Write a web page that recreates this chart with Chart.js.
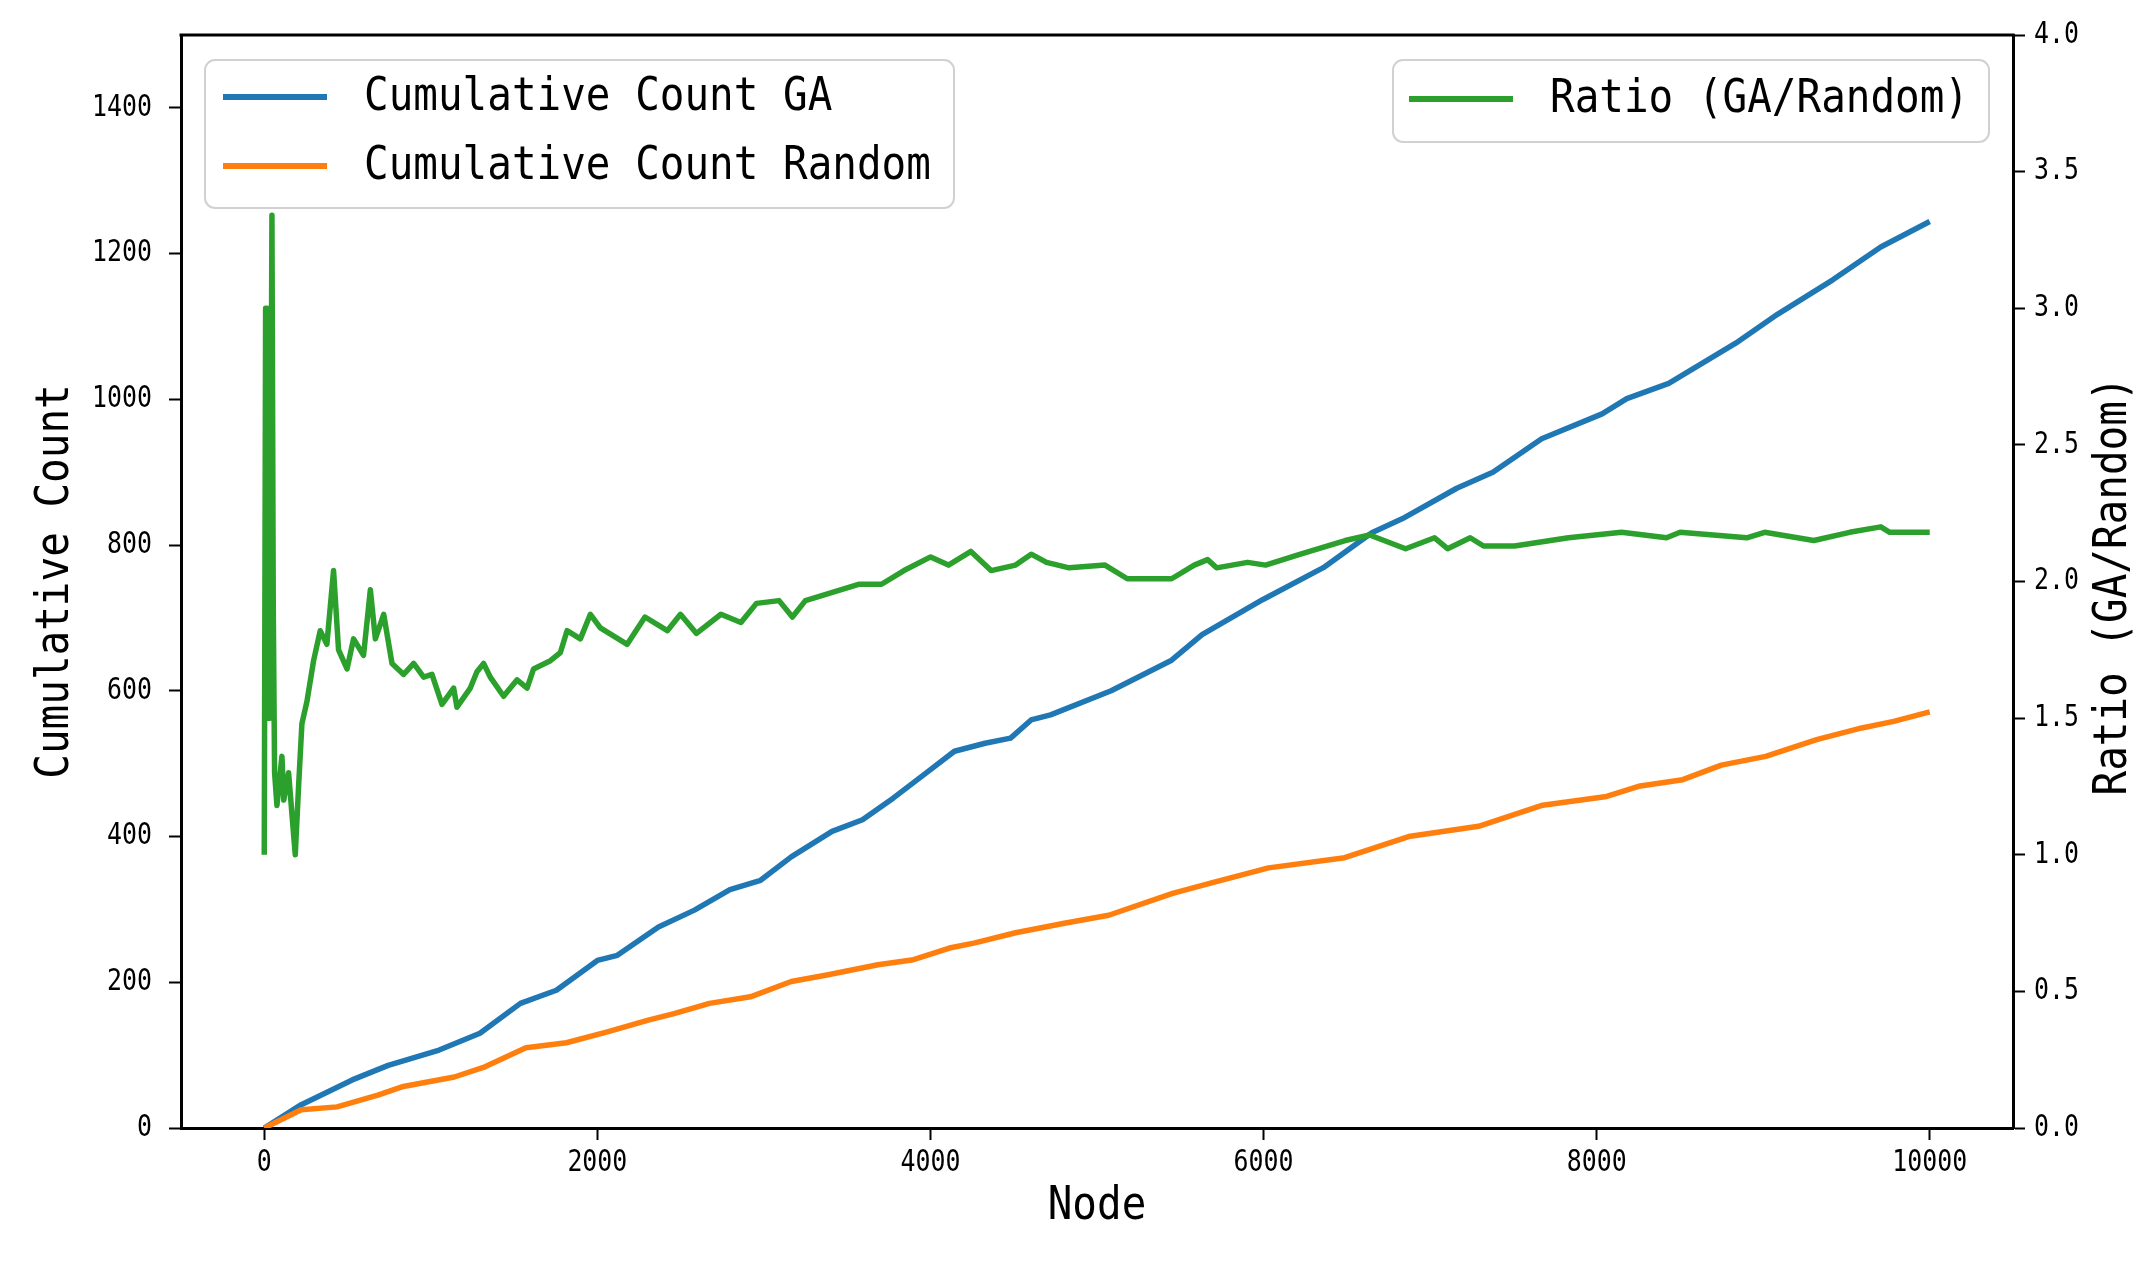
<!DOCTYPE html>
<html>
<head>
<meta charset="utf-8">
<script src="https://cdn.jsdelivr.net/npm/chart.js@4.4.1/dist/chart.umd.min.js"></script>
<style>
  html, body { margin: 0; padding: 0; background: #fff; }
  #wrap { width: 2156px; height: 1262px; position: relative; }
</style>
</head>
<body>
<div id="wrap"><canvas id="c"></canvas></div>
<script>
// ---- data ----
const gaNodes = [0, 222, 528, 744, 1050, 1295, 1538, 1754, 2000, 2120, 2367, 2583, 2796, 2980, 3164, 3409, 3592, 3778, 3961, 4144, 4328, 4481, 4604, 4721, 5085, 5448, 5631, 5994, 6359, 6650, 6832, 7160, 7377, 7670, 8033, 8181, 8433, 8835, 9088, 9418, 9706, 10000];
const gaCounts = [0, 32, 66, 86, 107, 130, 171, 189, 230, 237, 276, 299, 327, 340, 372, 407, 423, 453, 485, 517, 528, 535, 560, 567, 600, 642, 677, 725, 769, 817, 836, 878, 900, 946, 980, 1001, 1022, 1077, 1117, 1164, 1209, 1244];

const rndNodes = [0, 222, 437, 682, 835, 1141, 1325, 1571, 1814, 2060, 2306, 2460, 2673, 2919, 3164, 3378, 3685, 3898, 4114, 4267, 4511, 4804, 5070, 5454, 5682, 6030, 6487, 6871, 7291, 7676, 8060, 8252, 8517, 8749, 9015, 9321, 9592, 9784, 10000];
const rndCounts = [0, 25, 29, 45, 57, 70, 84, 110, 117, 132, 148, 157, 171, 180, 201, 210, 224, 231, 247, 254, 268, 281, 292, 322, 336, 357, 371, 400, 414, 443, 455, 469, 478, 498, 510, 533, 549, 558, 571];

const ratioNodes = [0, 8, 16, 22, 28, 34, 46, 54, 62, 76, 106, 117, 146, 166, 186, 206, 226, 256, 296, 336, 376, 416, 446, 497, 536, 596, 637, 667, 717, 767, 837, 897, 957, 1007, 1067, 1137, 1157, 1237, 1277, 1317, 1357, 1437, 1518, 1578, 1617, 1718, 1778, 1818, 1898, 1958, 2018, 2179, 2286, 2420, 2499, 2595, 2742, 2862, 2955, 3091, 3171, 3249, 3411, 3573, 3706, 3841, 4001, 4108, 4243, 4364, 4511, 4605, 4697, 4833, 5048, 5182, 5448, 5584, 5664, 5718, 5904, 6012, 6222, 6490, 6637, 6853, 7027, 7105, 7241, 7321, 7507, 7831, 8150, 8420, 8501, 8901, 9009, 9304, 9519, 9706, 9760, 10000];
const ratioValues = [1.0, 3.0, 3.0, 1.5, 3.0, 1.5, 3.34, 1.9, 1.3, 1.18, 1.36, 1.2, 1.30, 1.15, 1.0, 1.25, 1.48, 1.56, 1.71, 1.82, 1.77, 2.04, 1.75, 1.68, 1.79, 1.73, 1.97, 1.79, 1.88, 1.70, 1.66, 1.70, 1.65, 1.66, 1.55, 1.61, 1.54, 1.61, 1.67, 1.70, 1.65, 1.58, 1.64, 1.61, 1.68, 1.71, 1.74, 1.82, 1.79, 1.88, 1.83, 1.77, 1.87, 1.82, 1.88, 1.81, 1.88, 1.85, 1.92, 1.93, 1.87, 1.93, 1.96, 1.99, 1.99, 2.04, 2.09, 2.06, 2.11, 2.04, 2.06, 2.10, 2.07, 2.05, 2.06, 2.01, 2.01, 2.06, 2.08, 2.05, 2.07, 2.06, 2.10, 2.15, 2.17, 2.12, 2.16, 2.12, 2.16, 2.13, 2.13, 2.16, 2.18, 2.16, 2.18, 2.16, 2.18, 2.15, 2.18, 2.20, 2.18, 2.18];

const xTicks = [0, 2000, 4000, 6000, 8000, 10000];
const countTicks = [0, 200, 400, 600, 800, 1000, 1200, 1400];
const ratioTicks = [0, 0.5, 1.0, 1.5, 2.0, 2.5, 3.0, 3.5, 4.0];

const seriesNames = ['Cumulative Count GA', 'Cumulative Count Random', 'Ratio (GA/Random)'];
const xTitle = 'Node';
const yTitle = 'Cumulative Count';
const y1Title = 'Ratio (GA/Random)';

// ---- styling ----
const COLORS = ['#1f77b4', '#ff7f0e', '#2ca02c'];
const FONT = "'DejaVu Sans Mono', 'Liberation Mono', monospace";
// horizontal condensing to mimic SimHei half-width glyphs (small text condensed more)
function sxFor(font) {
  const m = /(\d+(?:\.\d+)?)px/.exec(font || '');
  const size = m ? parseFloat(m[1]) : 12;
  return size < 36 ? 0.83 : 0.89;
}

const canvas = document.getElementById('c');
const ctx = canvas.getContext('2d');
const origFill = ctx.fillText.bind(ctx);
const origMeasure = ctx.measureText.bind(ctx);
ctx.fillText = function (t, x, y, mw) {
  const sx = sxFor(this.font);
  this.save();
  this.translate(x, y);
  this.scale(sx, 1);
  if (mw !== undefined && mw !== null) origFill(t, 0, 0, mw / sx); else origFill(t, 0, 0);
  this.restore();
};
ctx.measureText = function (t) {
  const sx = sxFor(this.font);
  const m = origMeasure(t);
  return {
    width: m.width * sx,
    actualBoundingBoxAscent: m.actualBoundingBoxAscent,
    actualBoundingBoxDescent: m.actualBoundingBoxDescent,
    actualBoundingBoxLeft: m.actualBoundingBoxLeft * sx,
    actualBoundingBoxRight: m.actualBoundingBoxRight * sx,
    fontBoundingBoxAscent: m.fontBoundingBoxAscent,
    fontBoundingBoxDescent: m.fontBoundingBoxDescent
  };
};

const toPts = (xs, ys) => xs.map((x, i) => ({ x: x, y: ys[i] }));

function roundRect(c, x, y, w, h, r) {
  c.beginPath();
  c.moveTo(x + r, y);
  c.lineTo(x + w - r, y);
  c.arcTo(x + w, y, x + w, y + r, r);
  c.lineTo(x + w, y + h - r);
  c.arcTo(x + w, y + h, x + w - r, y + h, r);
  c.lineTo(x + r, y + h);
  c.arcTo(x, y + h, x, y + h - r, r);
  c.lineTo(x, y + r);
  c.arcTo(x, y, x + r, y, r);
  c.closePath();
}

function drawLegend(c, box, items) {
  c.save();
  roundRect(c, box.x, box.y, box.w, box.h, 10);
  c.fillStyle = 'rgba(255,255,255,0.8)';
  c.fill();
  c.lineWidth = 2;
  c.strokeStyle = 'rgba(204,204,204,0.9)';
  c.stroke();
  c.font = '46px ' + FONT;
  c.textBaseline = 'middle';
  c.textAlign = 'left';
  items.forEach(it => {
    c.beginPath();
    c.strokeStyle = it.color;
    c.lineWidth = 6;
    c.moveTo(it.hx0, it.y);
    c.lineTo(it.hx1, it.y);
    c.stroke();
    c.fillStyle = '#000';
    c.fillText(it.text, it.tx, it.y + 1);
  });
  c.restore();
}

const decor = {
  id: 'decor',
  afterDraw(chart) {
    const c = chart.ctx;
    const a = chart.chartArea;
    // top spine
    c.save();
    c.strokeStyle = '#000';
    c.lineWidth = 3;
    c.beginPath();
    c.moveTo(a.left - 1.5, a.top);
    c.lineTo(a.right + 1.5, a.top);
    c.stroke();
    c.restore();
    // legends
    drawLegend(c, { x: 205, y: 60, w: 749, h: 148 }, [
      { color: COLORS[0], hx0: 223, hx1: 327, y: 97, tx: 364, text: seriesNames[0] },
      { color: COLORS[1], hx0: 223, hx1: 327, y: 166, tx: 364, text: seriesNames[1] }
    ]);
    drawLegend(c, { x: 1393, y: 60, w: 596, h: 82 }, [
      { color: COLORS[2], hx0: 1409, hx1: 1513, y: 99, tx: 1550, text: seriesNames[2] }
    ]);
    // right axis title (reads bottom-to-top like the reference)
    c.save();
    c.font = '46px ' + FONT;
    c.fillStyle = '#000';
    c.textAlign = 'center';
    c.textBaseline = 'middle';
    c.translate(2114, 586);
    c.rotate(-Math.PI / 2);
    c.fillText(y1Title, 0, 0);
    c.restore();
  }
};

const tickFont = { family: FONT, size: 30 };
const titleFont = { family: FONT, size: 46 };

new Chart(ctx, {
  type: 'line',
  data: {
    datasets: [
      { label: seriesNames[0], data: toPts(gaNodes, gaCounts), borderColor: COLORS[0], yAxisID: 'y', order: 2 },
      { label: seriesNames[1], data: toPts(rndNodes, rndCounts), borderColor: COLORS[1], yAxisID: 'y', order: 1 },
      { label: seriesNames[2], data: toPts(ratioNodes, ratioValues), borderColor: COLORS[2], yAxisID: 'y1', order: 0 }
    ]
  },
  options: {
    responsive: true,
    maintainAspectRatio: false,
    devicePixelRatio: 1,
    animation: false,
    elements: {
      line: { borderWidth: 5.5, tension: 0, fill: false, borderJoinStyle: 'round', borderCapStyle: 'butt' },
      point: { radius: 0, hoverRadius: 0 }
    },
    layout: { padding: { top: 35, left: 0, right: 0, bottom: 0 } },
    plugins: { legend: { display: false }, tooltip: { enabled: false }, title: { display: false } },
    events: [],
    scales: {
      x: {
        type: 'linear',
        min: -500, max: 10500,
        afterBuildTicks: s => { s.ticks = xTicks.map(v => ({ value: v })); },
        afterFit: s => { s.height = 134; },
        ticks: { font: tickFont, color: '#000', padding: 5, maxRotation: 0, autoSkip: false, callback: v => String(v) },
        grid: { display: true, drawOnChartArea: false, drawTicks: true, tickLength: 12, tickWidth: 2, tickColor: '#000' },
        border: { display: true, color: '#000', width: 3 },
        title: { display: true, text: xTitle, font: titleFont, color: '#000', padding: { top: 0, bottom: 27 } }
      },
      y: {
        type: 'linear', position: 'left',
        min: 0, max: 1500,
        afterBuildTicks: s => { s.ticks = countTicks.map(v => ({ value: v })); },
        afterFit: s => { s.width = 181; },
        ticks: { font: tickFont, color: '#000', padding: 17, autoSkip: false, callback: v => String(v) },
        grid: { display: true, drawOnChartArea: false, drawTicks: true, tickLength: 12, tickWidth: 2, tickColor: '#000' },
        border: { display: true, color: '#000', width: 3 },
        title: { display: true, text: yTitle, font: titleFont, color: '#000', padding: { top: 28, bottom: 0 } }
      },
      y1: {
        type: 'linear', position: 'right',
        min: 0, max: 4.0,
        afterBuildTicks: s => { s.ticks = ratioTicks.map(v => ({ value: v })); },
        afterFit: s => { s.width = 143; },
        ticks: { font: tickFont, color: '#000', padding: 9, autoSkip: false, callback: v => Number(v).toFixed(1) },
        grid: { display: true, drawOnChartArea: false, drawTicks: true, tickLength: 12, tickWidth: 2, tickColor: '#000' },
        border: { display: true, color: '#000', width: 3 },
        title: { display: false }
      }
    }
  },
  plugins: [decor]
});
</script>
</body>
</html>
